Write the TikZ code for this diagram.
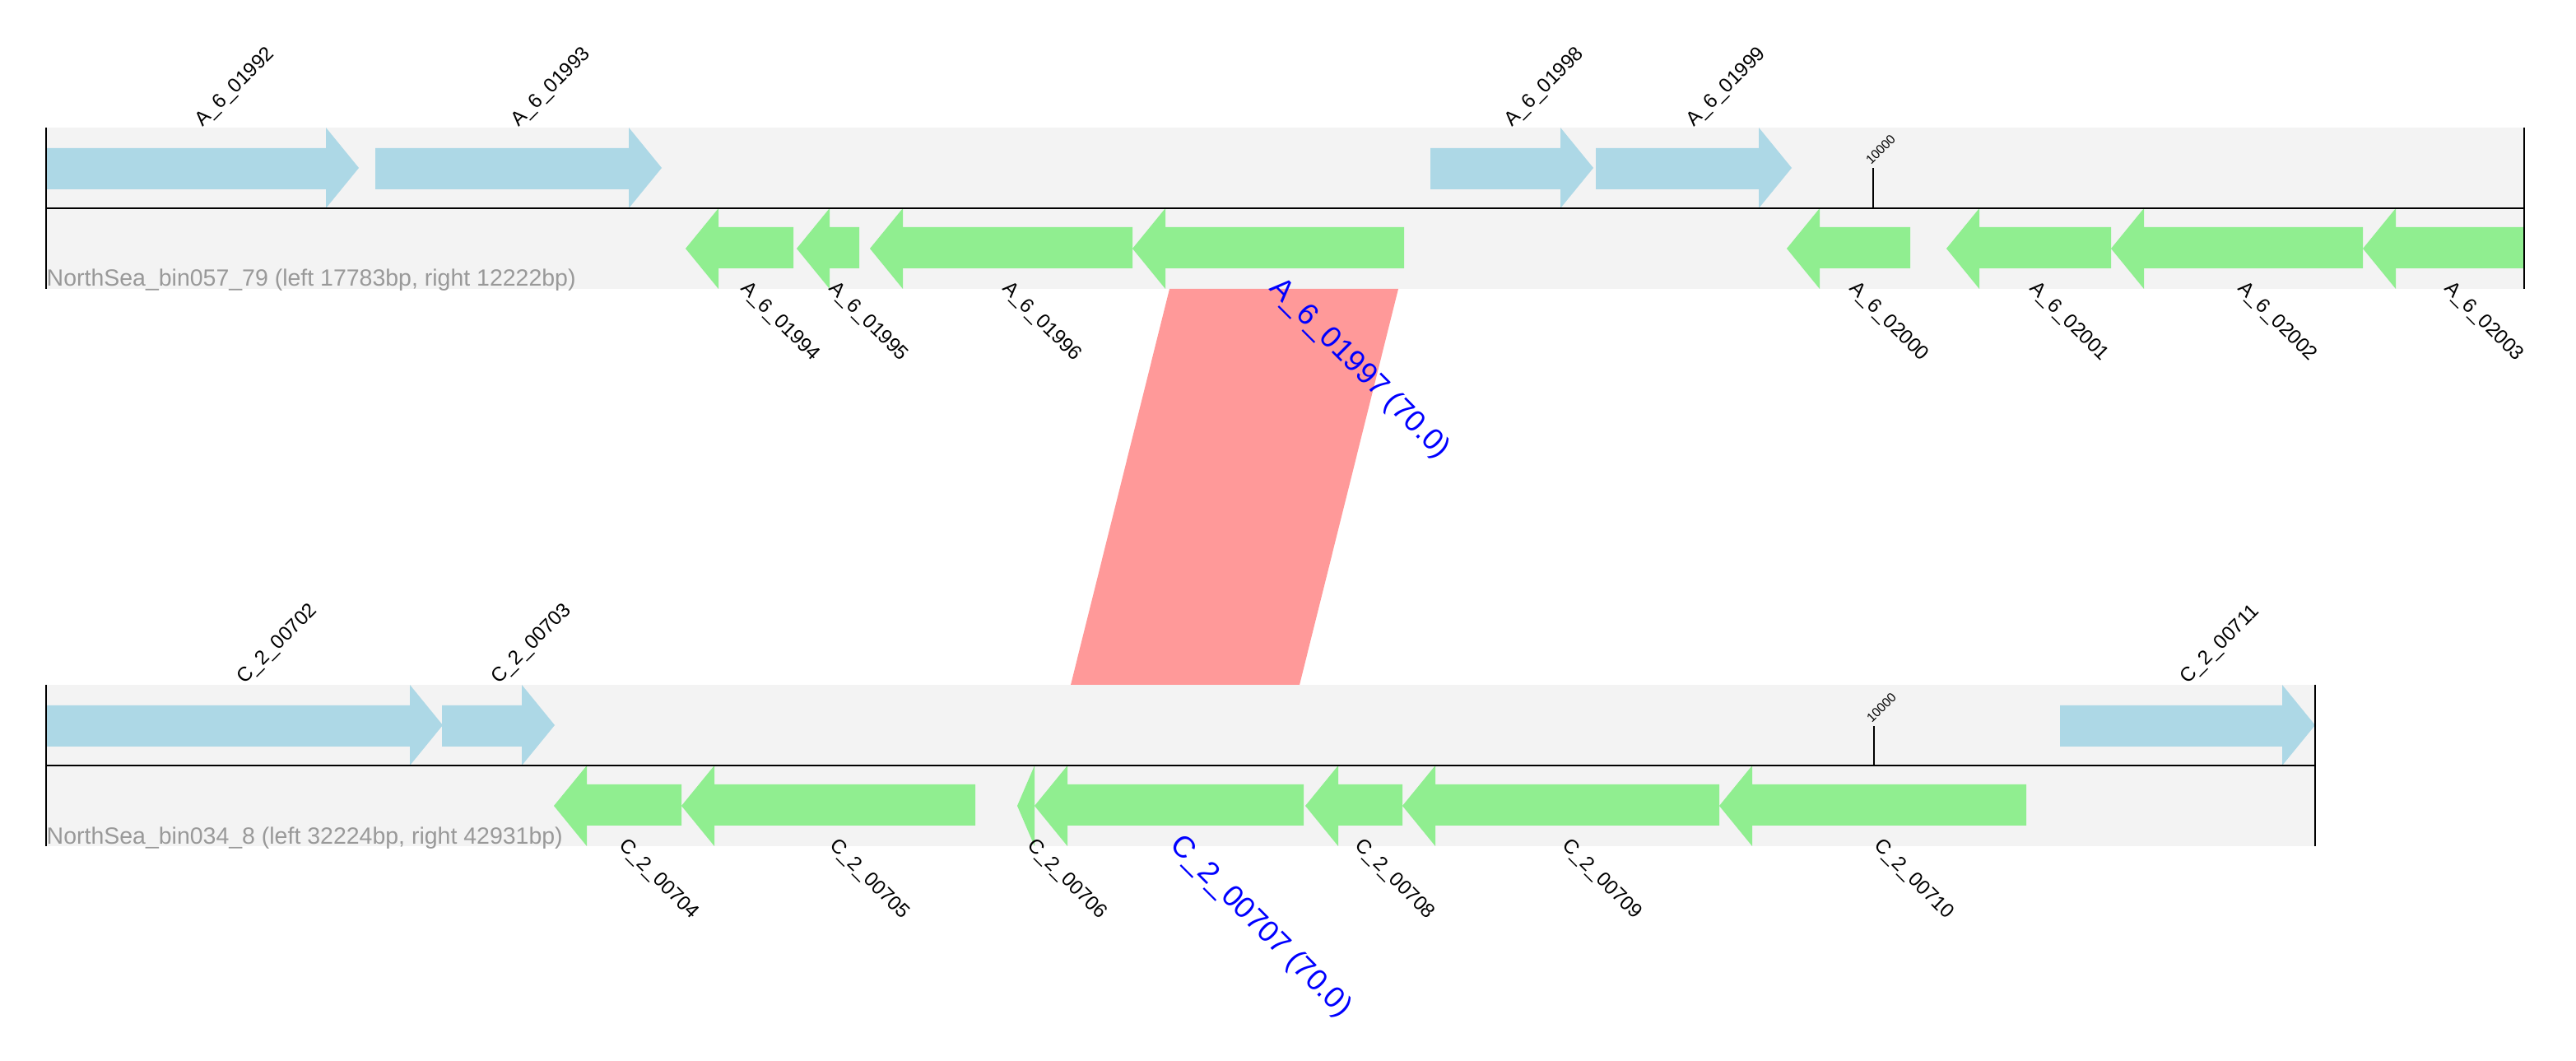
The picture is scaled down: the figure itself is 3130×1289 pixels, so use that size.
\documentclass[tikz,border=0pt]{standalone}
\usepackage{fontspec}
\setmainfont{Liberation Sans}
\definecolor{fwdblue}{HTML}{ADD8E6}
\definecolor{revgreen}{HTML}{90EE90}
\definecolor{bandgray}{HTML}{F3F3F3}
\definecolor{hitpink}{HTML}{FF9999}
\definecolor{namegray}{HTML}{999999}
\tikzset{
    genelabel/.style={anchor=base west, inner sep=0pt, font=\fontsize{6.9}{8}\selectfont},
    hitlabel/.style={anchor=base west, inner sep=0pt, text=blue, font=\fontsize{10.4}{12}\selectfont},
    ticklabel/.style={anchor=base west, inner sep=0pt, rotate=45, font=\fontsize{4.4}{5}\selectfont},
    trackname/.style={anchor=base west, inner sep=0pt, text=namegray, font=\fontsize{8.1}{10}\selectfont},
    axisline/.style={line width=0.025cm},
    endline/.style={line width=0.018cm}
}
\begin{document}
\begin{tikzpicture}[x=0.01cm, y=-0.01cm]
    \useasboundingbox (0,0) rectangle (3130,1289);
    \fill [color=bandgray] (56,155) rectangle (3067,351);
    \fill [color=bandgray] (56,832) rectangle (2813,1028);

    \coordinate (hitA1) at (1421,351);
    \coordinate (hitA2) at (1699,351);
    \coordinate (hitC1) at (1301,832);
    \coordinate (hitC2) at (1579,832);
    \fill [color=hitpink] (hitA1) -- (hitA2) -- (hitC2) -- (hitC1) -- cycle;

    \foreach \s/\e/\n in {56/436/01992,456/804/01993,1738/1936/01998,1939/2177/01999}
        {\pgfmathsetmacro\hb{max(\s,\e-40)}
        \fill [color=fwdblue] (\s,180) -- (\hb,180) -- (\hb,155) -- (\e,204) -- (\hb,253) -- (\hb,230) -- (\s,230) -- cycle;
        \node [genelabel, rotate=45] (fa\n) at ({(\s+\e)/2},155) {A\_6\_\n};}
    \foreach \s/\e/\n in {833/964/01994,968/1044/01995,1057/1376/01996,2171/2321/02000,2365/2565/02001,2565/2871/02002,2871/3067/02003}
        {\pgfmathsetmacro\hb{min(\e,\s+40)}
        \fill [color=revgreen] (\e,276) -- (\hb,276) -- (\hb,253) -- (\s,302) -- (\hb,351) -- (\hb,326) -- (\e,326) -- cycle;
        \node [genelabel, rotate=-45] (ra\n) at ({(\s+\e)/2},351) {A\_6\_\n};}
    \fill [color=revgreen] (1706,276) -- (1416,276) -- (1416,253) -- (1376,302) -- (1416,351) -- (1416,326) -- (1706,326) -- cycle;
    \node [hitlabel, rotate=-45] (ra01997) at (1541,351) {A\_6\_01997 (70.0)};

    \foreach \s/\e/\n in {56/538/00702,537/674/00703,2503/2813/00711}
        {\pgfmathsetmacro\hb{max(\s,\e-40)}
        \fill [color=fwdblue] (\s,857) -- (\hb,857) -- (\hb,832) -- (\e,881) -- (\hb,930) -- (\hb,907) -- (\s,907) -- cycle;
        \node [genelabel, rotate=45] (fc\n) at ({(\s+\e)/2},832) {C\_2\_\n};}
    \foreach \s/\e/\n in {673/828/00704,828/1185/00705,1236/1257/00706,1586/1704/00708,1704/2089/00709,2089/2462/00710}
        {\pgfmathsetmacro\hb{min(\e,\s+40)}
        \fill [color=revgreen] (\e,953) -- (\hb,953) -- (\hb,930) -- (\s,979) -- (\hb,1028) -- (\hb,1003) -- (\e,1003) -- cycle;
        \node [genelabel, rotate=-45] (rc\n) at ({(\s+\e)/2},1028) {C\_2\_\n};}
    \fill [color=revgreen] (1584,953) -- (1297,953) -- (1297,930) -- (1257,979) -- (1297,1028) -- (1297,1003) -- (1584,1003) -- cycle;
    \node [hitlabel, rotate=-45] (rc00707) at (1420,1028) {C\_2\_00707 (70.0)};

    \draw [axisline] (56,253) -- (3067,253);
    \draw [endline] (56,155) -- (56,351);
    \draw [endline] (3067,155) -- (3067,351);
    \draw [axisline] (56,930) -- (2813,930);
    \draw [endline] (56,832) -- (56,1028);
    \draw [endline] (2813,832) -- (2813,1028);

    \draw [endline] (2276,253) -- (2276,204);
    \node [ticklabel] (tickA) at (2273,201) {10000};
    \draw [endline] (2277,930) -- (2277,882);
    \node [ticklabel] (tickC) at (2274,879) {10000};

    \node [trackname] (nameA) at (56,348) {NorthSea\_bin057\_79 (left 17783bp, right 12222bp)};
    \node [trackname] (nameC) at (56,1025) {NorthSea\_bin034\_8 (left 32224bp, right 42931bp)};
\end{tikzpicture}
\end{document}
